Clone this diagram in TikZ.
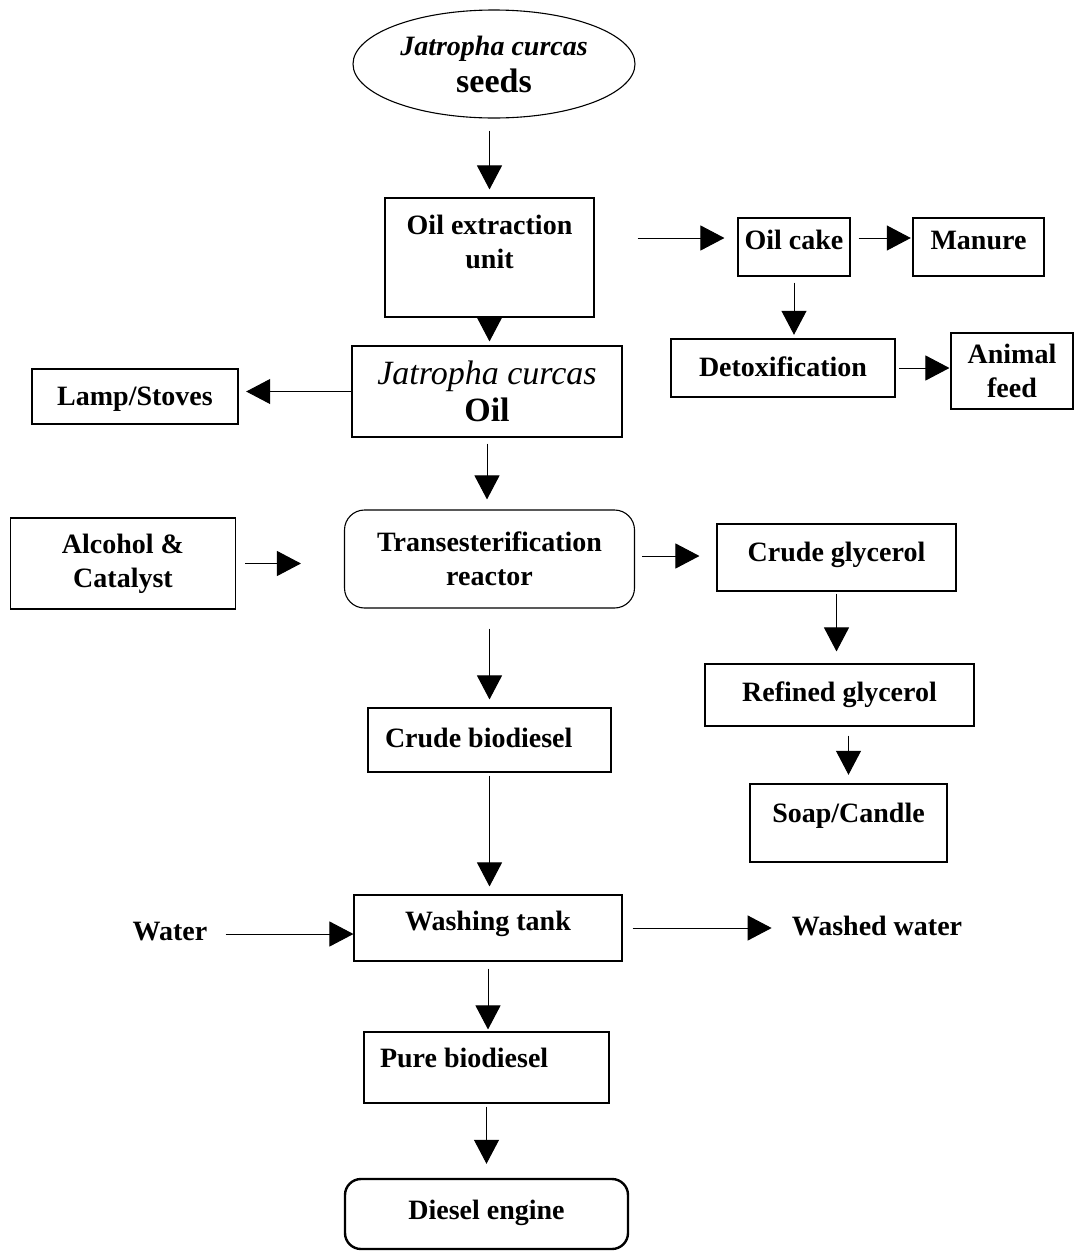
\documentclass[tikz,border=0pt]{standalone}
\usepackage{fontspec}
\setmainfont{Liberation Serif}
\usetikzlibrary{shapes.geometric, arrows.meta}

\begin{document}
\begin{tikzpicture}[x=1pt, y=-1pt,
    every node/.style={font=\bfseries\fontsize{28}{34}\selectfont, inner sep=0pt},
    box/.style={draw, line width=1.1pt, align=center},
    thickbox/.style={box, line width=2.4pt},
    lift/.style={text height=20pt, text depth=#1},
    flow/.style={-{Triangle[length=24pt, width=25pt]}, line width=1pt}]
        \useasboundingbox (0,0) rectangle (1074,1251);
        % main line
        \node[ellipse, draw, line width=1.1pt, minimum width=282pt, minimum height=108pt, align=center, font=\bfseries\fontsize{28}{37}\selectfont] (seeds) at (494,64) {\textit{Jatropha curcas}\\{\fontsize{34}{37}\selectfont seeds}};
        \node[box, minimum width=209pt, minimum height=119pt, text height=21pt, text depth=0pt] (oilext) at (489.5,257.5) {Oil extraction\\unit};
        \node[box, minimum width=270pt, minimum height=91pt, font=\bfseries\fontsize{34}{37}\selectfont] (jcoil) at (487,391.5) {\textmd{\textit{Jatropha curcas}}\\Oil};
        \node[box, rounded corners=20pt, minimum width=290pt, minimum height=98pt] (trans) at (489.5,559) {Transesterification\\reactor};
        \node[box, lift=6pt, align=flush left, text width=209pt, inner xsep=17pt, minimum height=64pt] (cbio) at (489.5,740) {Crude biodiesel};
        \node[box, lift=16pt, minimum width=268pt, minimum height=66pt] (wash) at (488,928) {Washing tank};
        \node[box, lift=21pt, align=flush left, text width=213pt, inner xsep=16pt, minimum height=71pt] (pure) at (486.5,1067.5) {Pure biodiesel};
        \node[thickbox, rounded corners=16pt, lift=10pt, minimum width=283pt, minimum height=70pt] (diesel) at (486.5,1214) {Diesel engine};
        % oil cake branch
        \node[box, lift=16pt, minimum width=112pt, minimum height=58pt] (oilcake) at (794,247) {Oil cake};
        \node[thickbox, lift=16pt, minimum width=131pt, minimum height=58pt] (manure) at (978.5,247) {Manure};
        \node[thickbox, lift=4pt, minimum width=224pt, minimum height=58pt] (detox) at (783,368) {Detoxification};
        \node[box, minimum width=122pt, minimum height=76pt] (feed) at (1012,371) {Animal\\feed};
        % side inputs and outputs
        \node[thickbox, lift=2pt, minimum width=206pt, minimum height=55pt] (lamp) at (135,396.5) {Lamp/Stoves};
        \node[box, minimum width=225pt, minimum height=91pt] (alcohol) at (123,563.5) {Alcohol \&\\Catalyst};
        \node[box, lift=13pt, minimum width=239pt, minimum height=67pt] (cglyc) at (836.5,557.5) {Crude glycerol};
        \node[box, lift=8pt, minimum width=269pt, minimum height=62pt] (rglyc) at (839.5,695) {Refined glycerol};
        \node[thickbox, lift=22pt, minimum width=197pt, minimum height=78pt] (soap) at (848.5,823) {Soap/Candle};
        \node[lift=2pt] (water) at (170,931) {Water};
        \node[lift=2pt] (washed) at (877,926) {Washed water};
        % connectors
        \draw[flow, shorten <=12pt, shorten >=8pt] (seeds.south -| oilext.north) -- (oilext.north);
        \draw[flow, shorten <=43pt, shorten >=13pt] ([yshift=9pt]oilext.east |- oilcake.west) -- ([yshift=9pt]oilcake.west);
        \draw[flow, shorten <=8pt, shorten >=1pt] ([yshift=9pt]oilcake.east) -- ([yshift=9pt]manure.west);
        \draw[flow, shorten <=6pt, shorten >=3pt] (oilcake.south) -- (oilcake.south |- detox.north);
        \draw[flow, shorten <=3pt, shorten >=1pt] (detox.east) -- (detox.east -| feed.west);
        \draw[flow, shorten <=3pt, shorten >=4pt] (oilext.south) -- (oilext.south |- jcoil.north);
        \draw[flow, shorten >=7pt] (jcoil.west) -- (jcoil.west -| lamp.east);
        \draw[flow, shorten <=6pt, shorten >=10pt] (jcoil.south) -- (jcoil.south |- trans.north);
        \draw[flow, shorten <=9pt, shorten >=43pt] (alcohol.east) -- (alcohol.east -| trans.west);
        \draw[flow, shorten <=7pt, shorten >=17pt] ([yshift=3pt]trans.east) -- ([yshift=3pt]trans.east -| cglyc.west);
        \draw[flow, shorten <=2pt, shorten >=12pt] (cglyc.south) -- (cglyc.south |- rglyc.north);
        \draw[flow, shorten <=9pt, shorten >=8pt] (soap.north |- rglyc.south) -- (soap.north);
        \draw[flow, shorten <=20pt, shorten >=8pt] (trans.south) -- (trans.south |- cbio.north);
        \draw[flow, shorten <=3pt, shorten >=8pt] (cbio.south) -- (cbio.south |- wash.north);
        \draw[flow, shorten <=18pt] ([yshift=-3pt]water.east) -- ([yshift=-3pt]water.east -| wash.west);
        \draw[flow, shorten <=10pt, shorten >=20pt] (wash.east) -- (wash.east -| washed.west);
        \draw[flow, shorten <=7pt, shorten >=2pt] (wash.south) -- (wash.south |- pure.north);
        \draw[flow, shorten <=3pt, shorten >=14pt] (pure.south) -- (pure.south |- diesel.north);
    \end{tikzpicture}
\end{document}
